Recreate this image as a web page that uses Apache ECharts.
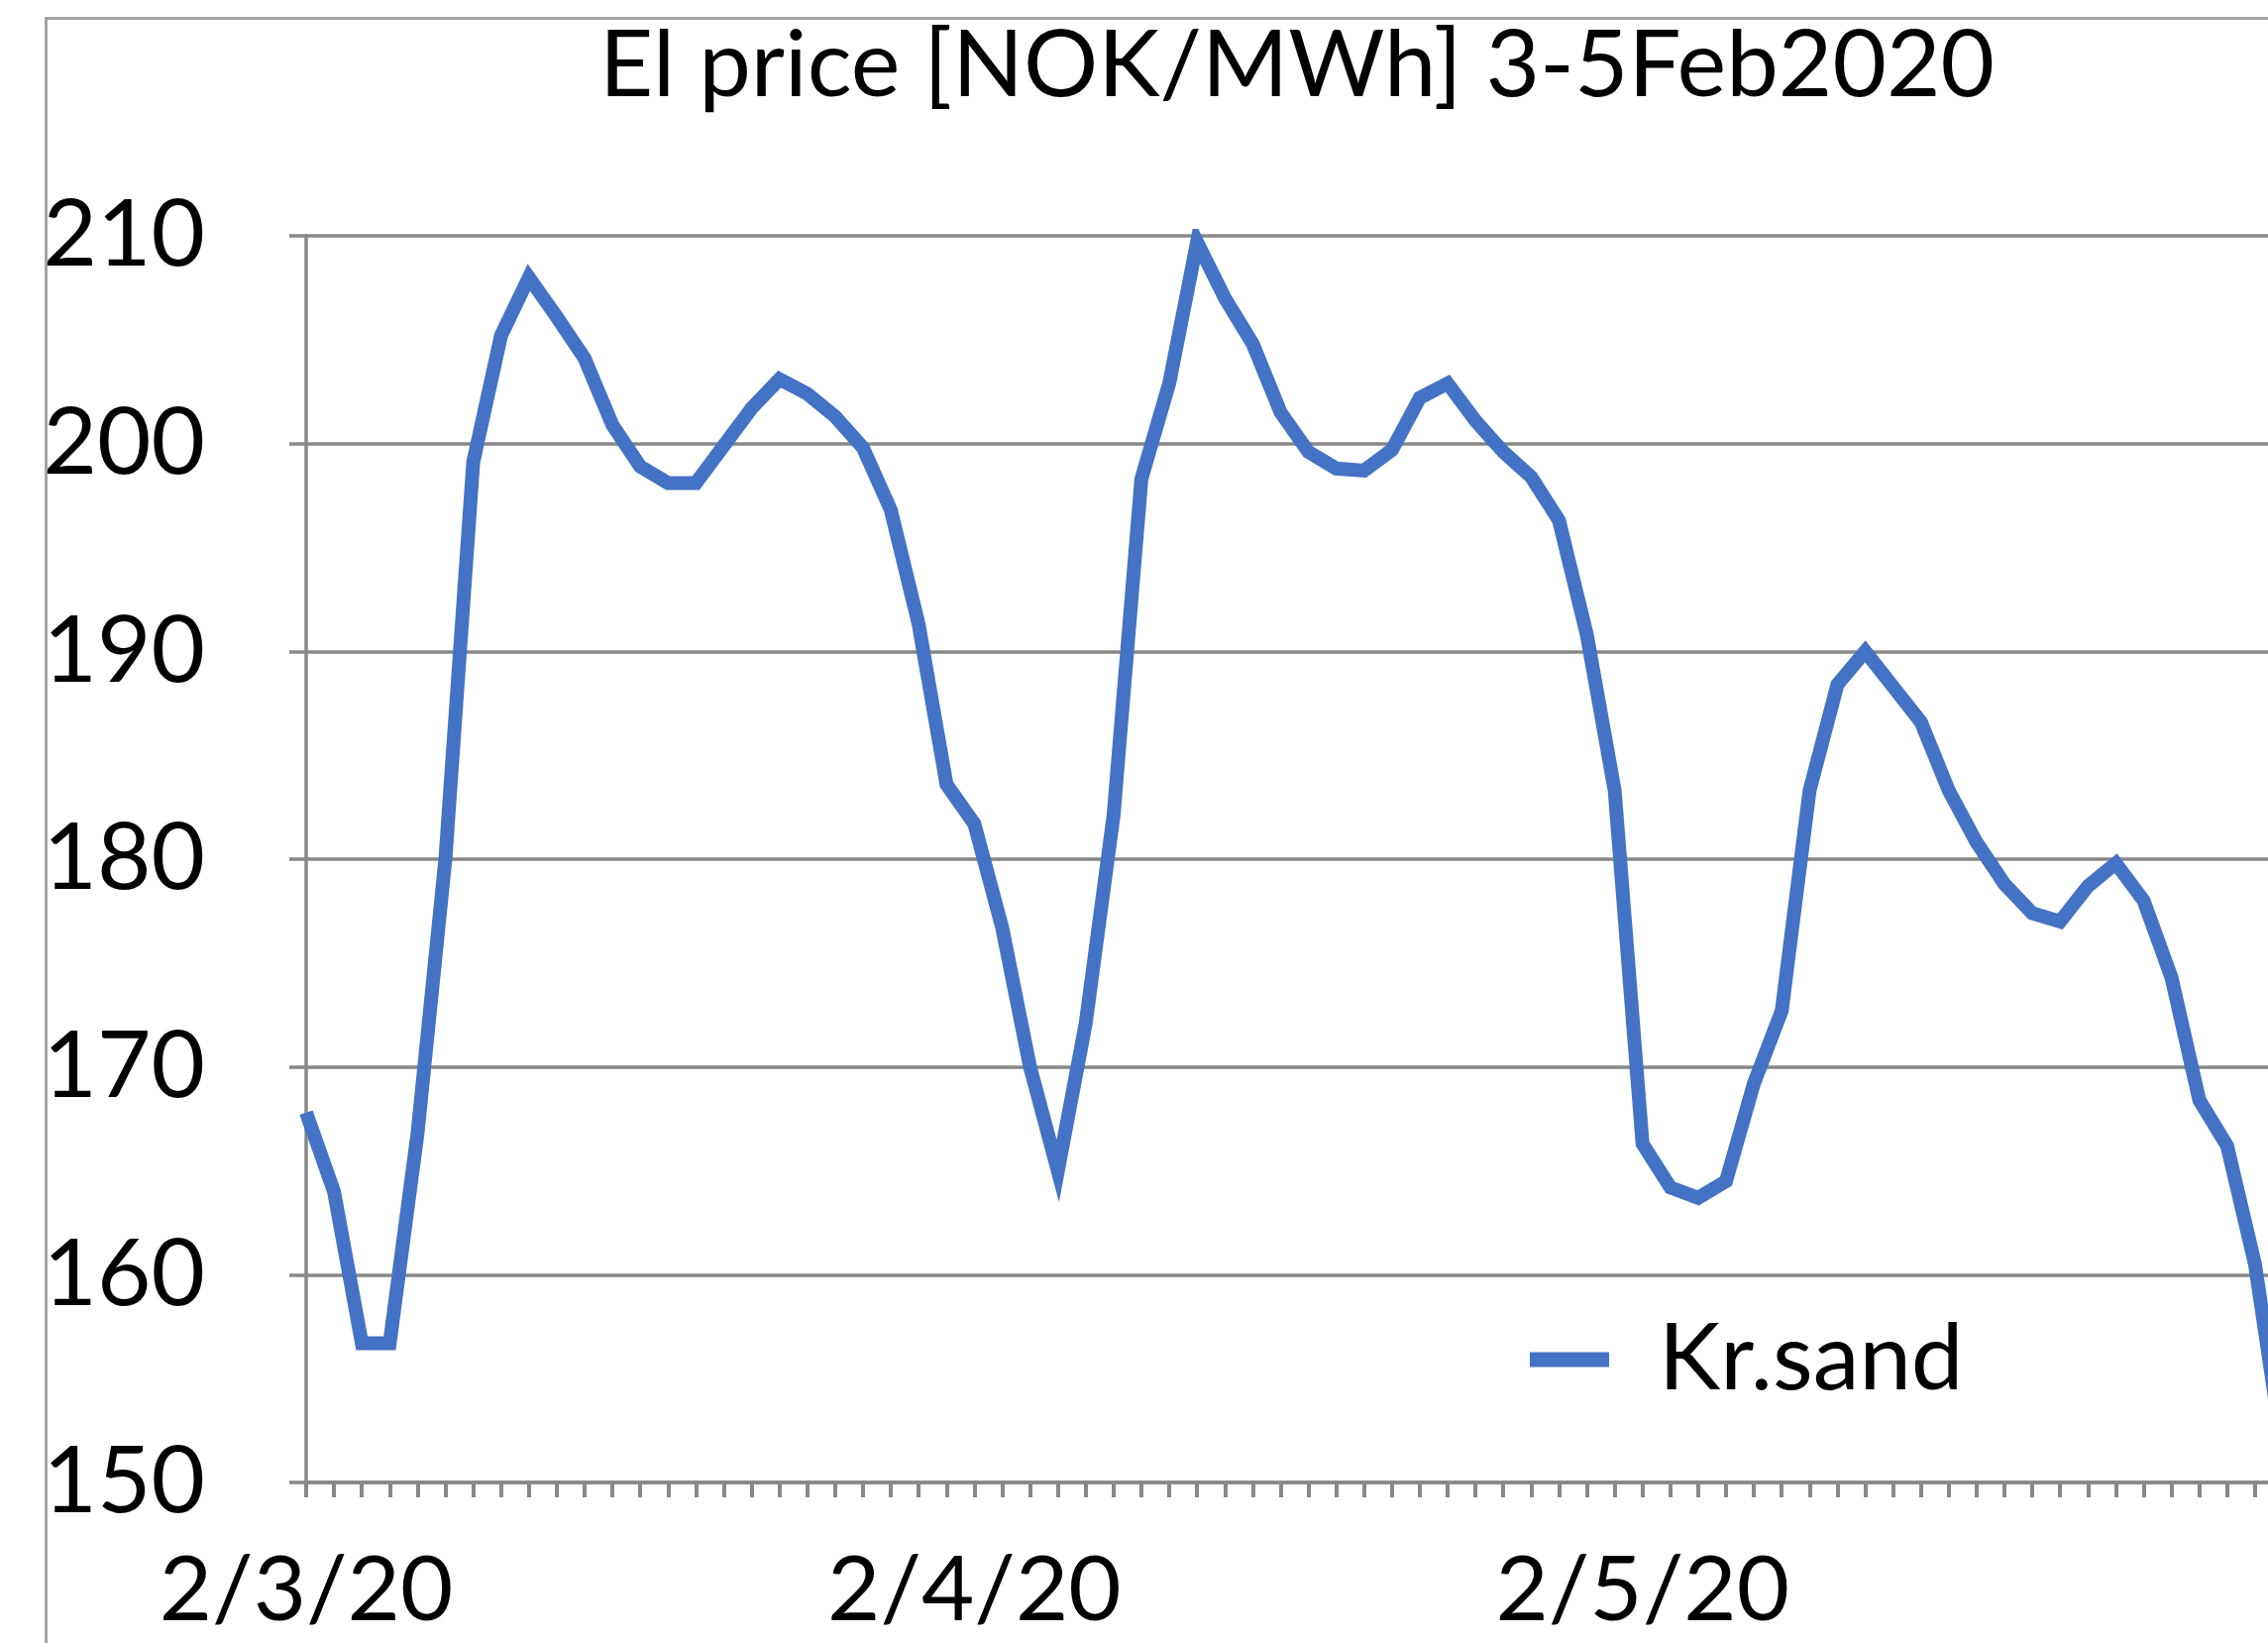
<!DOCTYPE html>
<html>
<head>
<meta charset="utf-8">
<title>El price Kr.sand</title>
<script src="https://cdn.jsdelivr.net/npm/echarts@6/dist/echarts.min.js"></script>
<style>
  html, body { margin: 0; padding: 0; background: #fff; }
  #chart { width: 2289px; height: 1658px; }
</style>
</head>
<body>
<div id="chart"></div>
<script>
const titleText = 'El price [NOK/MWh] 3-5Feb2020';
const seriesName = 'Kr.sand';
const days = ['2/3/20', '2/4/20', '2/5/20'];
const hoursPerDay = 24;
const yTicks = [150, 160, 170, 180, 190, 200, 210];

// hourly price (last hour is cut by the right edge)
const krsand = [
  167.8, 164.0, 156.7, 156.7, 166.8, 180.0, 199.1, 205.2, 208.0, 206.1, 204.1, 200.9,
  198.9, 198.1, 198.1, 199.9, 201.7, 203.1, 202.4, 201.3, 199.8, 196.8, 191.3, 183.6,
  181.7, 176.7, 170.0, 165.0, 172.1, 182.1, 198.3, 202.9, 209.7, 207.0, 204.8, 201.5,
  199.6, 198.8, 198.7, 199.7, 202.2, 202.9, 201.1, 199.6, 198.4, 196.3, 190.8, 183.3,
  166.3, 164.2, 163.7, 164.5, 169.2, 172.7, 183.3, 188.4, 190.0, 188.3, 186.6, 183.3,
  180.8, 178.8, 177.4, 177.0, 178.7, 179.8, 178.0, 174.3, 168.4, 166.2, 160.5, 151.5
];

const categories = [];
days.forEach((d) => {
  for (let h = 0; h < hoursPerDay; h++) categories.push(d + ' ' + h + ':00');
});

const font = 'Lato';
const gridGrey = '#888888';

const chart = echarts.init(document.getElementById('chart'));
chart.setOption({
  animation: false,
  backgroundColor: '#fff',
  color: ['#4472c4'],
  title: {
    text: titleText,
    left: 1309,
    top: 20,
    padding: 0,
    textAlign: 'center',
    textStyle: { fontFamily: font, fontSize: 94, fontWeight: 'normal', color: '#000' }
  },
  legend: {
    left: 1544,
    top: 1325,
    padding: 0,
    icon: 'rect',
    itemWidth: 80,
    itemHeight: 15,
    data: [seriesName],
    textStyle: { fontFamily: font, fontSize: 94, color: '#000', padding: [0, 0, 0, 45] }
  },
  graphic: [{
    type: 'rect',
    left: 44,
    top: 16,
    shape: { width: 3000, height: 3000 },
    style: { fill: 'none', stroke: '#a3a3a3', lineWidth: 3 },
    silent: true
  }],
  // the plot runs on past the right edge of the picture, so the last hour is cut
  grid: {
    left: 309, width: 1995, top: 238, bottom: 162,
    containLabel: false, outerBoundsMode: 'none'
  },
  xAxis: {
    type: 'category',
    data: categories,
    boundaryGap: false,
    axisLine: { lineStyle: { color: gridGrey, width: 3.5 } },
    axisTick: { show: true, interval: 0, length: 15, lineStyle: { color: gridGrey, width: 4 } },
    axisLabel: {
      interval: (i) => i % hoursPerDay === 0,
      formatter: (v) => v.split(' ')[0],
      margin: 63,
      fontFamily: font,
      fontSize: 92,
      color: '#000'
    },
    splitLine: { show: false }
  },
  yAxis: {
    type: 'value',
    min: yTicks[0],
    max: yTicks[yTicks.length - 1],
    interval: 10,
    axisLine: { show: true, lineStyle: { color: gridGrey, width: 3.5 } },
    axisTick: { show: true, length: 17, lineStyle: { color: gridGrey, width: 3.5 } },
    axisLabel: { margin: 102, fontFamily: font, fontSize: 94, color: '#000' },
    splitLine: { lineStyle: { color: gridGrey, width: 3.5 } }
  },
  series: [{
    name: seriesName,
    type: 'line',
    data: krsand,
    showSymbol: false,
    symbol: 'none',
    lineStyle: { width: 14, color: '#4472c4', join: 'miter', cap: 'butt' }
  }]
});
</script>
</body>
</html>
